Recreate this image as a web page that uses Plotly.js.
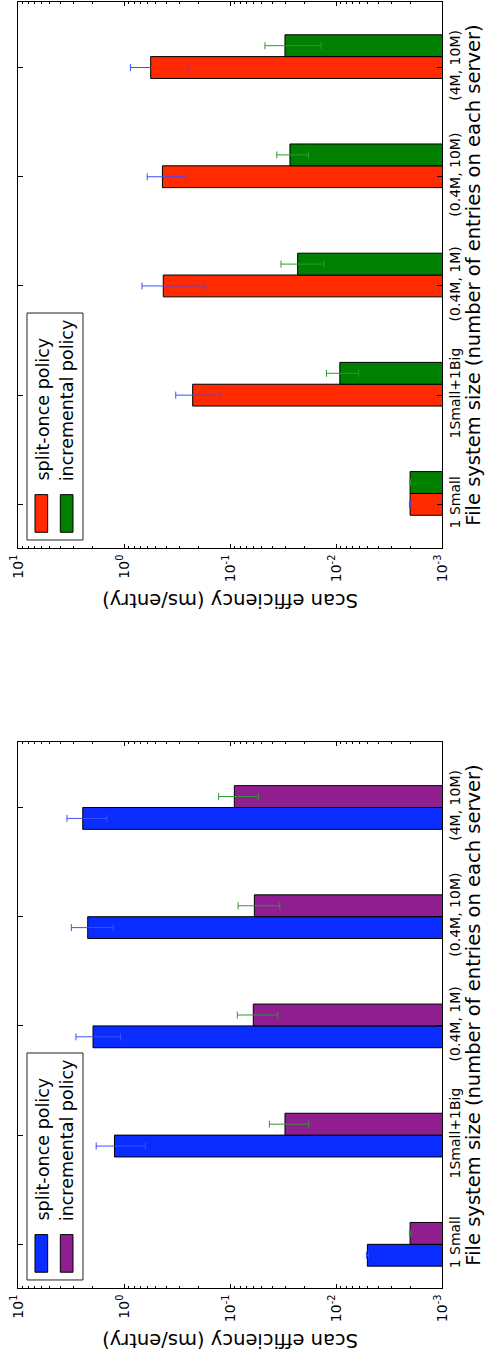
<!DOCTYPE html>
<html>
<head>
<meta charset="utf-8">
<script src="https://cdn.plot.ly/plotly-3.0.1.min.js"></script>
<style>
  html, body { margin: 0; padding: 0; background: #ffffff; }
  #chart { width: 485px; height: 1357px; }
</style>
</head>
<body>
<div id="chart"></div>
<script>
// ---- data ----
const categories = ["1 Small", "1Small+1Big", "(0.4M, 1M)", "(0.4M, 10M)", "(4M, 10M)"];
const seriesNames = ["split-once policy", "incremental policy"];
const valueTickVals = [10, 1, 0.1, 0.01, 0.001];
const valueTickText = ["10<sup>1</sup>", "10<sup>0</sup>", "10<sup>-1</sup>", "10<sup>-2</sup>", "10<sup>-3</sup>"];

// upper panel (red / green)
const splitOnceTop      = [0.0020, 0.225, 0.426, 0.434, 0.560];
const splitOnceTopErr   = [0.00003, 0.10, 0.25, 0.17, 0.31];
const incrementalTop    = [0.0020, 0.0092, 0.0230, 0.0272, 0.0303];
const incrementalTopErr = [0.00002, 0.0031, 0.010, 0.009, 0.0165];

// lower panel (blue / purple)
const splitOnceBottom      = [0.00506, 1.23, 1.96, 2.20, 2.45];
const splitOnceBottomErr   = [0.0001, 0.60, 0.88, 0.94, 1.00];
const incrementalBottom    = [0.0020, 0.0303, 0.0603, 0.0589, 0.0910];
const incrementalBottomErr = [0.00003, 0.0122, 0.025, 0.025, 0.037];

// ---- styling ----
const FONT = "DejaVu Sans";
const RED = "#ff2a00", GREEN = "#008000", BLUE = "#0a2cff", PURPLE = "#901e90";
const ERR_BLUE = "#3d50ff", ERR_GREEN = "#2f9a2f";
const BAR_W = 0.2;

function barTrace(vals, errs, color, errColor, offset, xa, ya, name) {
  return {
    type: "bar", orientation: "h", name: name,
    x: vals, y: categories, xaxis: xa, yaxis: ya,
    width: BAR_W, offset: offset,
    marker: { color: color, line: { color: "#000000", width: 1 } },
    error_x: { type: "data", array: errs, visible: true, color: errColor, thickness: 1, width: 3.5 }
  };
}
const data = [
  barTrace(splitOnceTop, splitOnceTopErr, RED, ERR_BLUE, -BAR_W / 2, "x", "y", seriesNames[0]),
  barTrace(incrementalTop, incrementalTopErr, GREEN, ERR_GREEN, BAR_W / 2, "x", "y", seriesNames[1]),
  barTrace(splitOnceBottom, splitOnceBottomErr, BLUE, ERR_BLUE, -BAR_W, "x2", "y2", seriesNames[0]),
  barTrace(incrementalBottom, incrementalBottomErr, PURPLE, ERR_GREEN, 0, "x2", "y2", seriesNames[1])
];

function valueAxis(anchor) {
  return {
    type: "log", range: [1, -3], autorange: false, anchor: anchor,
    tickmode: "array", tickvals: valueTickVals, ticktext: valueTickText, tickangle: -90,
    ticks: "inside", ticklen: 4, tickwidth: 1, tickcolor: "#000000",
    minor: { ticks: "inside", ticklen: 2, tickcolor: "#000000", showgrid: false, dtick: "D1" },
    showline: true, linecolor: "#000000", linewidth: 1, mirror: "allticks",
    showgrid: false, zeroline: false,
    tickfont: { family: FONT, size: 14, color: "#000000" }
  };
}
function categoryAxis(anchor, domain) {
  return {
    type: "category", categoryorder: "array", categoryarray: categories,
    range: [-0.4, 4.6], autorange: false, anchor: anchor, domain: domain,
    side: "right", tickangle: -90,
    ticks: "inside", ticklen: 5, tickwidth: 1, tickcolor: "#000000",
    showline: true, linecolor: "#000000", linewidth: 1, mirror: "allticks",
    showgrid: false, zeroline: false,
    tickfont: { family: FONT, size: 14, color: "#000000" },
    title: { text: "File system size (number of entries on each server)",
             font: { family: FONT, size: 19.5, color: "#000000" }, standoff: 3 }
  };
}

// legend drawn inside each panel, rotated like the rest of the figure
function legendParts(xd, yd, c1, c2) {
  const shapes = [
    { type: "rect", xref: xd, yref: yd, x0: 0.0212, x1: 0.1533, y0: 0.0147, y1: 0.4304,
      line: { color: "#222222", width: 1 }, fillcolor: "#ffffff", layer: "above" },
    { type: "rect", xref: xd, yref: yd, x0: 0.0401, x1: 0.0700, y0: 0.0289, y1: 0.0978,
      line: { color: "#000000", width: 1 }, fillcolor: c1, layer: "above" },
    { type: "rect", xref: xd, yref: yd, x0: 0.0998, x1: 0.1297, y0: 0.0289, y1: 0.0978,
      line: { color: "#000000", width: 1 }, fillcolor: c2, layer: "above" }
  ];
  const anns = [0, 1].map(i => ({
    xref: xd, yref: yd, x: i ? 0.1160 : 0.0590, y: 0.119, text: seriesNames[i], textangle: -90,
    xanchor: "center", yanchor: "bottom", showarrow: false,
    font: { family: FONT, size: 17.5, color: "#000000" } }));
  return { shapes, anns };
}
function valueTitle(xd, yd) {
  return { xref: xd, yref: yd, x: 0.5, y: -0.0971, text: "Scan efficiency (ms/entry)",
           textangle: 180, xanchor: "center", yanchor: "middle", showarrow: false,
           font: { family: FONT, size: 19.5, color: "#000000" } };
}
const lt = legendParts("x domain", "y domain", RED, GREEN);
const lb = legendParts("x2 domain", "y2 domain", BLUE, PURPLE);

const layout = {
  width: 485, height: 1357,
  margin: { l: 18, r: 43, t: 2, b: 69, pad: 0 },
  paper_bgcolor: "#ffffff", plot_bgcolor: "#ffffff",
  font: { family: FONT, size: 14, color: "#000000" },
  showlegend: false, barmode: "overlay",
  xaxis: valueAxis("y"), yaxis: categoryAxis("x", [0.5754, 1]),
  xaxis2: valueAxis("y2"), yaxis2: categoryAxis("x2", [0, 0.4246]),
  shapes: lt.shapes.concat(lb.shapes),
  annotations: lt.anns.concat(lb.anns, [valueTitle("x domain", "y domain"), valueTitle("x2 domain", "y2 domain")])
};

Plotly.newPlot("chart", data, layout, { staticPlot: true, displayModeBar: false });
</script>
</body>
</html>
